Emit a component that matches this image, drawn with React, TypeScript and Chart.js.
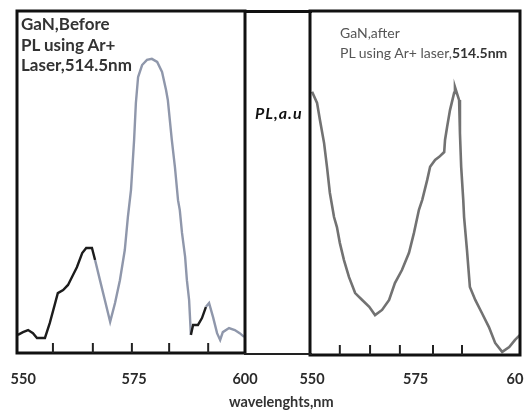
import React, { useEffect, useRef } from "react";
import { Chart, registerables } from "chart.js";

Chart.register(...registerables);

// ---- data ----
const beforeWavelength = [
  548.8, 549.95, 551.1, 552.2, 553.1, 554.9, 556.0, 557.2, 557.8, 559.0, 560.1, 561.0, 562.1, 563.3, 564.2,
  565.5, 566.2, 567.3, 568.4, 569.6, 570.7, 571.8, 572.9, 573.6, 574.3, 575.0, 575.4, 575.9, 576.8, 577.9,
  579.0, 580.2, 581.3, 582.2, 582.6, 583.5, 584.2, 584.9, 585.3, 585.8, 586.5, 586.9, 587.4, 587.8, 588.3,
  589.4, 590.3, 591.2, 591.9, 592.8, 593.7, 594.4, 595.0, 596.4, 597.7, 598.8, 599.8,
];
const beforeIntensity = [
  5.3, 6.1, 6.7, 5.8, 4.4, 4.4, 8.8, 14.6, 17.5, 18.4, 19.9, 22.2, 25.1, 29.2, 30.7,
  30.7, 27.2, 21.3, 15.5, 9.1, 14.6, 21.3, 30.1, 39.8, 47.7, 62.3, 73.1, 80.7, 84.2, 85.7,
  86.0, 85.1, 82.2, 76.9, 74.0, 62.3, 54.4, 44.7, 41.8, 35.1, 28.1, 21.3, 15.5, 5.3, 8.2,
  8.2, 10.2, 13.5, 14.6, 10.5, 5.8, 3.8, 6.1, 7.3, 6.7, 5.8, 4.7,
];

const afterWavelength = [
  550.0, 551.2, 551.9, 552.9, 553.6, 554.3, 555.3, 556.0, 556.7, 557.7, 558.9, 560.4, 562.1, 563.8, 565.2,
  566.9, 568.6, 570.0, 571.7, 573.4, 574.6, 575.8, 576.6, 577.8, 578.5, 579.7, 580.7, 581.9, 582.1, 582.6,
  583.3, 584.3, 584.5, 585.5, 585.7, 586.0, 586.5, 586.7, 587.4, 588.1, 589.4, 591.0, 592.7, 594.2, 595.9,
  597.6, 599.0, 600.2,
];
const afterIntensity = [
  76.5, 73.3, 68.3, 61.6, 54.7, 47.1, 40.1, 37.2, 32.6, 27.6, 22.7, 18.0, 16.0, 14.0, 11.6,
  13.1, 16.0, 20.9, 24.7, 29.7, 35.5, 42.2, 45.1, 50.9, 54.7, 56.7, 57.6, 59.0, 62.5, 66.3,
  71.2, 76.2, 77.9, 74.1, 64.5, 54.7, 45.1, 40.1, 30.5, 19.8, 16.0, 12.2, 8.1, 3.5, 0.9,
  2.3, 4.4, 5.8,
];

const tickValues = [550, 575, 600];
const tickLabels = ["550", "575", "600"];
const beforeMinorTicks = [556.7, 565.7, 574.5, 582.9, 591.7];
const afterMinorTicks = [556.7, 564.0, 571.2, 579.2, 586.2];

const framePlugin = {
  id: "frame",
  afterDraw(chart: any, _args: any, opts: any) {
    const { ctx, chartArea: a, scales } = chart;
    ctx.save();
    ctx.strokeStyle = "#111";
    ctx.lineWidth = opts.lineWidth || 3;
    ctx.strokeRect(a.left, a.top, a.right - a.left, a.bottom - a.top);
    ctx.lineWidth = 2;
    ctx.strokeStyle = "#222";
    for (const v of opts.minor || []) {
      const x = scales.x.getPixelForValue(v);
      ctx.beginPath();
      ctx.moveTo(x, a.bottom);
      ctx.lineTo(x, a.bottom - 10);
      ctx.stroke();
    }
    ctx.restore();
  },
};

function makeChart(
  canvas: HTMLCanvasElement,
  xs: number[],
  ys: number[],
  cfg: {
    min: number;
    max: number;
    padding: { left: number; right: number; top: number; bottom: number };
    minor: number[];
    color: (x: number) => string;
    lineWidth: number;
    tickGap: number;
  }
) {
  return new Chart(canvas, {
    type: "line",
    data: {
      datasets: [
        {
          data: xs.map((x, i) => ({ x, y: ys[i] })),
          borderColor: cfg.color(560),
          borderWidth: cfg.lineWidth,
          pointRadius: 0,
          tension: 0,
          fill: false,
          segment: {
            borderColor: (ctx: any) => cfg.color((ctx.p0.parsed.x + ctx.p1.parsed.x) / 2),
          },
        },
      ],
    },
    options: {
      animation: false,
      responsive: false,
      maintainAspectRatio: false,
      layout: { padding: cfg.padding },
      plugins: {
        legend: { display: false },
        tooltip: { enabled: false },
        frame: { minor: cfg.minor, lineWidth: 3 },
      } as any,
      scales: {
        x: {
          type: "linear",
          min: cfg.min,
          max: cfg.max,
          afterBuildTicks: (s: any) => {
            s.ticks = tickValues.map((v) => ({ value: v }));
          },
          afterFit: (s: any) => {
            s.height = 42;
            s.paddingLeft = 0;
            s.paddingRight = 0;
          },
          ticks: {
            callback: (v: any) => {
              const i = tickValues.indexOf(Number(v));
              return i >= 0 ? tickLabels[i] : "";
            },
            font: { family: "Lato", weight: "bold", size: 14.5 },
            color: "#2a2a2a",
            padding: 0,
            maxRotation: 0,
            autoSkip: false,
          },
          grid: { display: false, drawTicks: true, tickLength: cfg.tickGap },
          border: { display: false },
        },
        y: {
          type: "linear",
          min: 0,
          max: 100,
          display: false,
        },
      },
    },
    plugins: [framePlugin as any],
  });
}

export default function App() {
  const leftRef = useRef<HTMLCanvasElement>(null);
  const rightRef = useRef<HTMLCanvasElement>(null);

  useEffect(() => {
    document.body.style.margin = "0";
    const c1 = makeChart(leftRef.current!, beforeWavelength, beforeIntensity, {
      min: 548.6,
      max: 600,
      padding: { left: 17, right: 17, top: 11, bottom: 19 },
      minor: beforeMinorTicks,
      color: (x) => (x < 566 || (x > 587.6 && x < 591.5) ? "#1c1c1c" : "#8f97ab"),
      lineWidth: 2.4,
      tickGap: 18,
    });
    const c2 = makeChart(rightRef.current!, afterWavelength, afterIntensity, {
      min: 549.5,
      max: 600.2,
      padding: { left: 48, right: 42, top: 11, bottom: 17 },
      minor: afterMinorTicks,
      color: () => "#727272",
      lineWidth: 2.6,
      tickGap: 16,
    });
    return () => {
      c1.destroy();
      c2.destroy();
    };
  }, []);

  const textBase: React.CSSProperties = { position: "absolute", whiteSpace: "nowrap", fontFamily: "Lato, sans-serif" };

  return (
    <div
      style={{
        position: "fixed",
        left: 0,
        top: 0,
        width: 524,
        height: 414,
        overflow: "hidden",
        background: "#ffffff",
      }}
    >
      <canvas ref={leftRef} width={262} height={414} style={{ position: "absolute", left: 0, top: 0, width: 262, height: 414 }} />
      <canvas ref={rightRef} width={300} height={414} style={{ position: "absolute", left: 262, top: 0, width: 300, height: 414 }} />
      {/* frame lines across the gap between the panels */}
      <div style={{ position: "absolute", left: 244, top: 10, width: 68, height: 3, background: "#111" }} />
      <div style={{ position: "absolute", left: 244, top: 353, width: 68, height: 2, background: "#222" }} />
      <div style={{ ...textBase, left: 21, top: 14, fontSize: 17, fontWeight: 700, lineHeight: "20.5px", color: "#333" }}>
        GaN,Before
        <br />
        PL using Ar+
        <br />
        Laser,514.5nm
      </div>
      <div style={{ ...textBase, left: 340, top: 23, fontSize: 14, fontWeight: 400, lineHeight: "20px", color: "#555" }}>
        GaN,after
        <br />
        PL using Ar+ laser,<b style={{ color: "#333" }}>514.5nm</b>
      </div>
      <div
        style={{
          ...textBase,
          left: 255,
          top: 103,
          fontSize: 16,
          fontWeight: 700,
          fontStyle: "italic",
          letterSpacing: "1px",
          color: "#111",
        }}
      >
        PL,a.u
      </div>
      <div style={{ ...textBase, left: 229, top: 393, fontSize: 14.5, fontWeight: 700, color: "#333" }}>
        wavelenghts,nm
      </div>
    </div>
  );
}
